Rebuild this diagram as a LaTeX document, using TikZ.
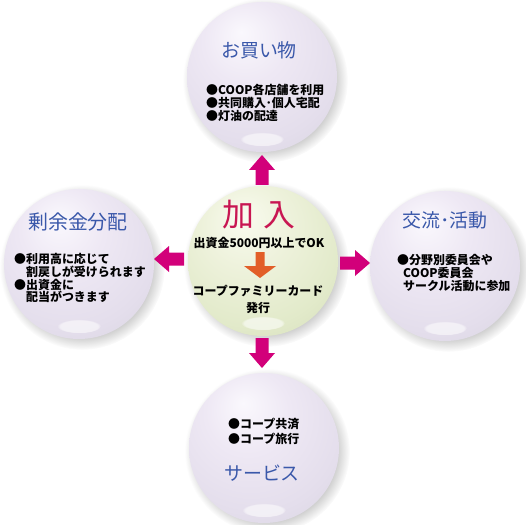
\documentclass[tikz,border=0pt]{standalone}
\usepackage{fontspec}
\newfontfamily\jp{Noto Sans CJK JP}
\usetikzlibrary{fadings,shadows}
\definecolor{lavw}{HTML}{FAF8FD}
\definecolor{lav0}{HTML}{EEE8F4}
\definecolor{lav1}{HTML}{E4DEEC}
\definecolor{lav2}{HTML}{D6D2DE}
\definecolor{lavrim}{HTML}{BCBAC4}
\definecolor{lavdark}{HTML}{96969E}
\definecolor{grw}{HTML}{F9FBEF}
\definecolor{gr0}{HTML}{EEF2DC}
\definecolor{gr1}{HTML}{E2EACA}
\definecolor{gr2}{HTML}{D2DAB8}
\definecolor{grrim}{HTML}{B8BEA8}
\definecolor{grdark}{HTML}{969C8E}
\definecolor{arrowmag}{RGB}{210,0,122}
\definecolor{arroworg}{RGB}{226,94,40}
\definecolor{titleblue}{RGB}{58,88,170}
\definecolor{titlered}{RGB}{200,22,82}
\pgfdeclareradialshading{lavsphere}{\pgfpoint{-7bp}{15bp}}{%
  color(0bp)=(lavw); color(14bp)=(lav0); color(30bp)=(lav1);
  color(44bp)=(lav2); color(55bp)=(lavrim); color(67bp)=(lavdark)}
\pgfdeclareradialshading{grsphere}{\pgfpoint{-7bp}{15bp}}{%
  color(0bp)=(grw); color(14bp)=(gr0); color(30bp)=(gr1);
  color(44bp)=(gr2); color(55bp)=(grrim); color(67bp)=(grdark)}
\tikzset{
  x=1bp, y=-1bp,
  ball/.style={circle, inner sep=0pt, minimum size=150bp, draw=none,
    circular drop shadow={shadow xshift=3bp, shadow yshift=-3bp, opacity=0.18, fill=black}},
  lavball/.style={ball, shading=lavsphere},
  grball/.style={ball, shading=grsphere},
  title/.style={inner sep=0pt, text=titleblue, font=\jp\fontsize{19}{22}\selectfont},
  body/.style={inner sep=0pt, align=left, anchor=west, text=black,
    font=\jp\bfseries\fontsize{12}{13}\selectfont},
  fatarrow/.pic={\fill (0,-6.5) -- (15,-6.5) -- (15,-13) -- (30,0) -- (15,13) -- (15,6.5) -- (0,6.5) -- cycle;},
}
\begin{document}
\begin{tikzpicture}
\useasboundingbox[fill=white] (0,0) rectangle (525,525);
% spheres
\node[lavball] (top) at (262,77) {};
\node[lavball] (left) at (79,264) {};
\node[lavball] (right) at (445,266) {};
\node[lavball] (bottom) at (264,448) {};
\node[grball] (center) at (263,261) {};
% reflections
\foreach \s in {top,left,right,bottom,center}{
  \fill[white, opacity=0.55, path fading=circle with fuzzy edge 15 percent]
    ([yshift=13bp]\s.south) ellipse (22 and 7);
}
% arrows
\pic[arrowmag, rotate=90] (aup) at (262,185) {fatarrow};
\pic[arrowmag, rotate=-90] (adown) at (262,338) {fatarrow};
\pic[arrowmag, rotate=180] (aleft) at (184,259) {fatarrow};
\pic[arrowmag] (aright) at (340,263) {fatarrow};
\fill[arroworg] (255.5,252) coordinate (og) -- (255.5,266) -- (244,266) -- (260,278) -- (276,266) -- (264.5,266) -- (264.5,252) -- cycle;
% top
\node[title] (ttop) at (259,50) {お買い物};
\node[body] (btop) at (206,103) {●COOP各店舗を利用\\●共同購入･個人宅配\\●灯油の配達};
% center
\node[inner sep=0pt, text=titlered, font=\jp\fontsize{32}{34}\selectfont] (tcenter) at (259,215) {加\hspace{10bp}入};
\node[body, anchor=center] (bcenter1) at (259,243) {出資金5000円以上でOK};
\node[body, anchor=center, align=center, font=\jp\bfseries\fontsize{12}{17}\selectfont] (bcenter2) at (258,299) {コープファミリーカード\\発行};
% left
\node[title, font=\jp\fontsize{20}{22}\selectfont] (tleft) at (78,222) {剰余金分配};
\node[body] (bleft) at (14,278) {●利用高に応じて\\\hspace*{1em}割戻しが受けられます\\●出資金に\\\hspace*{1em}配当がつきます};
% right
\node[title] (tright) at (445,220) {交流･活動};
\node[body] (bright) at (397,273) {●分野別委員会や\\\hspace*{0.5em}COOP委員会\\\hspace*{0.5em}サークル活動に参加};
% bottom
\node[body, font=\jp\bfseries\fontsize{12}{15}\selectfont] (bbottom) at (228,431) {●コープ共済\\●コープ旅行};
\node[title] (tbottom) at (262,473) {サービス};
\end{tikzpicture}
\end{document}
